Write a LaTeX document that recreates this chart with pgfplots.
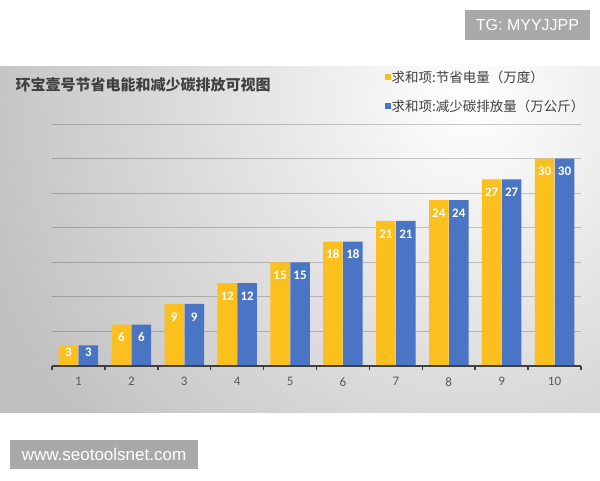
\documentclass[border=0pt]{standalone}
\usepackage{pgfplots}
\pgfplotsset{compat=1.18}
\usepackage{fontspec}
\setmainfont{Carlito}
\newfontfamily\cjk{Noto Sans CJK SC}
\newfontfamily\arial{Liberation Sans}
\definecolor{ygold}{HTML}{FBBF1E}
\definecolor{xblue}{HTML}{4A74C4}
\definecolor{txt}{HTML}{404040}
\definecolor{ticktxt}{HTML}{595959}
\definecolor{wm}{HTML}{A9A9A9}
\pgfdeclareradialshading{panelshade}{\pgfpoint{0bp}{0bp}}{%
  color(0bp)=(white); color(13bp)=(black!25); color(50bp)=(black!25)}
\begin{document}
\begin{tikzpicture}[x=1pt,y=1pt]
\useasboundingbox (0,0) rectangle (600,480);
\fill[white] (0,0) rectangle (600,480);
% gradient panel
\begin{scope}
  \clip (0,68) rectangle (600,413);
  \fill[black!25] (0,68) rectangle (600,413);
  \shade[shading=panelshade] (470,380) circle (1000);
\end{scope}
% watermarks
\fill[wm] (465,440) rectangle (590,470);
\node[font=\arial\fontsize{16}{16}\selectfont, text=white] at (527.5,455) {TG: MYYJJPP};
\fill[wm] (10,11) rectangle (198,40);
\node[font=\arial\fontsize{17}{17}\selectfont, text=white] at (104,25.5) {www.seotoolsnet.com};
% title
\node[anchor=west, font=\cjk\bfseries\fontsize{15}{15}\selectfont, text=txt] at (12,395)
  {环宝壹号节省电能和减少碳排放可视图};

\begin{axis}[
  /pgf/number format/assume math mode=true,
  at={(52pt,114pt)}, anchor=south west,
  scale only axis, width=529pt, height=242pt,
  xmin=0.5, xmax=10.5, ymin=0, ymax=35,
  axis x line=bottom, axis y line=left,
  x axis line style={txt, line width=1.5pt, -},
  y axis line style={draw=none},
  xtick={1,...,10},
  xticklabels={1,2,3,4,5,6,7,8,9,10},
  minor xtick={0.5,1.5,...,10.5},
  major tick length=0pt, minor tick length=4pt, tick align=inside,
  minor x tick style={txt, line width=1.5pt},
  ytick={5,10,...,35}, yticklabels={}, ytick style={draw=none},
  ymajorgrids,
  grid style={black, opacity=0.2, line width=0.8pt},
  xticklabel style={font=\fontsize{13}{13}\selectfont, text=ticktxt, yshift=-8pt},
  ybar=0.5pt, bar width=19.5pt,
  nodes near coords,
  visualization depends on={rawy \as \rawy},
  every node near coord/.append style={font=\bfseries\fontsize{13}{13}\selectfont,
    text=white, anchor=center, yshift={ifthenelse(\rawy<5,-7,-13)}},
  legend style={at={(0.6295,1.226)}, anchor=north west, draw=none, fill=none,
    font=\cjk\fontsize{13.5}{14}\selectfont, text=txt, inner sep=0pt,
    row sep=14pt, nodes={inner sep=1pt}},
  legend cell align=left,
  legend image code/.code={\fill[#1] (0pt,-2.75pt) rectangle (5.5pt,2.75pt);},
]
\addplot[fill=ygold, draw=none] coordinates {
  (1,3) (2,6) (3,9) (4,12) (5,15) (6,18) (7,21) (8,24) (9,27) (10,30)};
\addplot[fill=xblue, draw=none] coordinates {
  (1,3) (2,6) (3,9) (4,12) (5,15) (6,18) (7,21) (8,24) (9,27) (10,30)};
\legend{求和项:节省电量（万度）, 求和项:减少碳排放量（万公斤）}
\draw[txt, line width=1.5pt] (axis cs:0.5,0) -- (axis cs:10.5,0);
\end{axis}
\end{tikzpicture}
\end{document}
